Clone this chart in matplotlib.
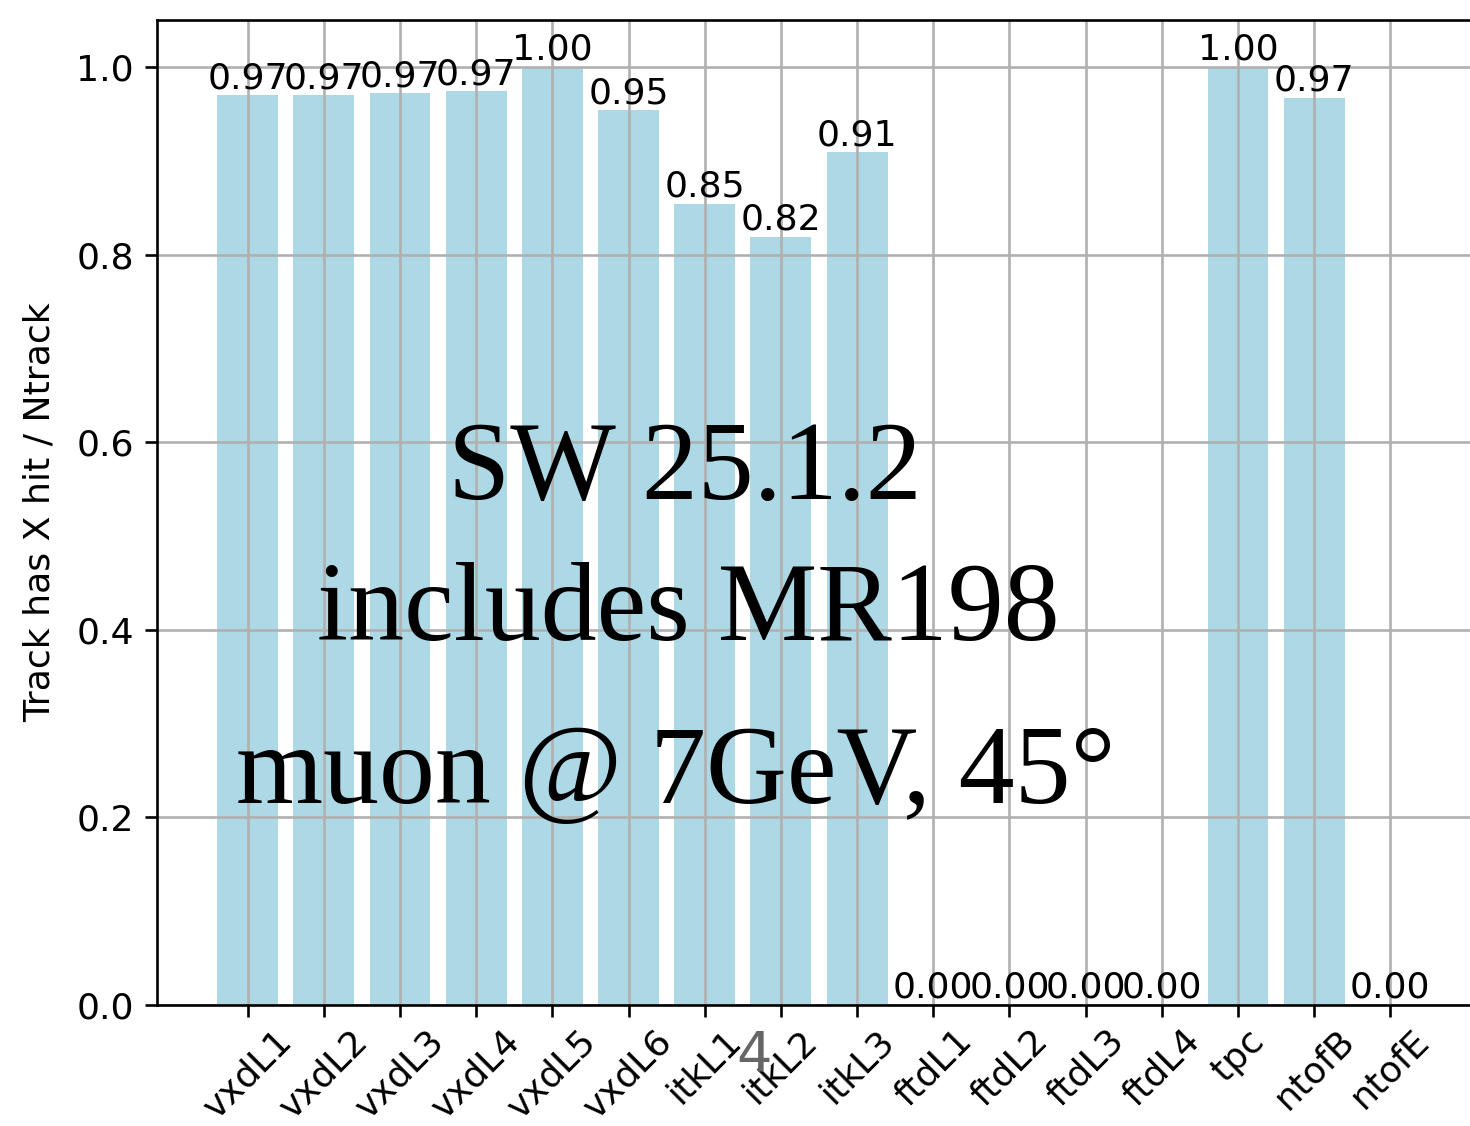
import matplotlib
matplotlib.use('Agg')
import matplotlib.pyplot as plt
import numpy as np

# detector layers and fraction of tracks with a hit in each
layers = ['vxdL1', 'vxdL2', 'vxdL3', 'vxdL4', 'vxdL5', 'vxdL6',
          'itkL1', 'itkL2', 'itkL3',
          'ftdL1', 'ftdL2', 'ftdL3', 'ftdL4',
          'tpc', 'ntofB', 'ntofE']
frac = [0.970, 0.970, 0.972, 0.974, 1.000, 0.954,
        0.854, 0.819, 0.909,
        0.0, 0.0, 0.0, 0.0,
        1.000, 0.967, 0.0]

dpi = 237
plt.rcParams['font.size'] = 11
fig = plt.figure(figsize=(1470/dpi, 1126/dpi), dpi=dpi)
ax = fig.add_axes([157/1470, 121/1126, 1324/1470, 985/1126])

x = np.arange(len(layers))
bars = ax.bar(x, frac, width=0.8, color='lightblue')
for xi, v in zip(x, frac):
    ax.text(xi, v, '%.2f' % v, ha='center', va='bottom')

ax.set_xticks(x)
ax.set_xticklabels(layers, rotation=45)
ax.tick_params(axis='x', pad=2)
ax.set_ylabel('Track has X hit / Ntrack', labelpad=6)
ax.set_ylim(0, 1.05)
ax.grid(True)

# overlay text from the slide
fig.text(0.466, 0.557, 'SW 25.1.2', ha='center', va='baseline',
         family='Liberation Serif', fontsize=34)
fig.text(0.468, 0.432, 'includes MR198', ha='center', va='baseline',
         family='Liberation Serif', fontsize=34)
fig.text(0.460, 0.287, 'muon @ 7GeV, 45°', ha='center', va='baseline',
         family='Liberation Serif', fontsize=34)
fig.text(0.513, 0.063, '4', ha='center', va='center', color='#666666',
         fontsize=17)

fig.savefig('out.png', dpi=dpi)
